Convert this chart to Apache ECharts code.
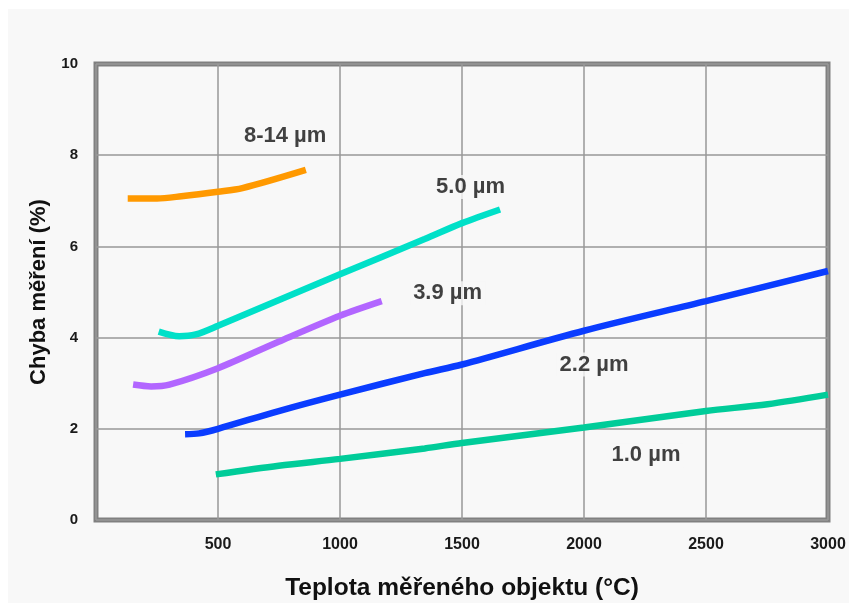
<!DOCTYPE html>
<html><head><meta charset="utf-8">
<script src="https://cdn.jsdelivr.net/npm/echarts@6/dist/echarts.min.js"></script>
<style>html,body{margin:0;padding:0;background:#fff}#c{width:849px;height:603px}</style>
</head><body><div id="c"></div>
<script>
// ---- data ----
const xTicks = [0, 500, 1000, 1500, 2000, 2500, 3000];
const yTicks = [0, 2, 4, 6, 8, 10];
const seriesNames = ['8-14 µm', '5.0 µm', '3.9 µm', '2.2 µm', '1.0 µm'];
const s8_14 = [[130, 7.05], [250, 7.05], [350, 7.1], [500, 7.2], [600, 7.28], [860, 7.68]];
const s5_0 = [[257, 4.13], [341, 4.03], [409, 4.07], [500, 4.26], [1000, 5.39], [1347, 6.16], [1500, 6.51], [1656, 6.81]];
const s3_9 = [[152, 2.97], [226, 2.93], [301, 2.97], [500, 3.33], [748, 3.91], [1000, 4.48], [1171, 4.80]];
const s2_2 = [[365, 1.88], [423, 1.90], [500, 2.0], [749, 2.39], [1000, 2.75], [1347, 3.22], [1500, 3.41], [2000, 4.15], [2500, 4.80], [3000, 5.46]];
const s1_0 = [[491, 1.0], [749, 1.19], [1000, 1.34], [1347, 1.57], [1500, 1.69], [2000, 2.03], [2500, 2.39], [2752, 2.54], [3000, 2.75]];
const labelAnchors = [[775, 8.42], [1535, 7.30], [1441, 4.97], [2041, 3.41], [2254, 1.42]];

const colors = ['#ff9900', '#00e0c8', '#b266ff', '#0a3cff', '#00cc99'];
const allSeries = [s8_14, s5_0, s3_9, s2_2, s1_0];
const FONT = "'Liberation Sans', Arial, sans-serif";

const chart = echarts.init(document.getElementById('c'), null, {renderer: 'canvas'});
const series = allSeries.map((d, i) => ({
  name: seriesNames[i], type: 'line', data: d, smooth: 0.3, symbol: 'none',
  lineStyle: {color: colors[i], width: 6.5, cap: 'butt'}, z: 3, silent: true
}));
series.push({
  type: 'scatter', symbolSize: 0, silent: true, z: 5,
  data: labelAnchors.map((p, i) => ({name: seriesNames[i], value: p})),
  label: {show: true, position: 'inside', formatter: '{b}', color: '#111',
    fontFamily: FONT, fontWeight: 'bold', fontSize: 22,
    backgroundColor: '#f8f8f8', padding: [1, 3]}
});

chart.setOption({
  backgroundColor: '#f8f8f8',
  animation: false,
  graphic: [
    {type: 'rect', shape: {x: 0, y: 0, width: 849, height: 9}, style: {fill: '#ffffff'}, silent: true},
    {type: 'rect', shape: {x: 0, y: 0, width: 8, height: 603}, style: {fill: '#ffffff'}, silent: true}
  ],
  grid: {left: 96, top: 64, right: 21, bottom: 83, show: true, outerBoundsMode: 'none', containLabel: false,
    borderColor: '#808080', borderWidth: 5, backgroundColor: '#f8f8f8'},
  xAxis: {
    type: 'value', min: xTicks[0], max: xTicks[xTicks.length - 1], interval: 500,
    name: 'Teplota měřeného objektu (°C)', nameLocation: 'middle', nameGap: 56,
    nameTextStyle: {fontFamily: FONT, fontWeight: 'bold', fontSize: 24.5, color: '#111'},
    axisLine: {show: false}, axisTick: {show: false},
    axisLabel: {fontFamily: FONT, fontWeight: 'bold', fontSize: 16, color: '#1a1a1a', margin: 17,
      formatter: v => (v === 0 ? '' : String(v))},
    splitLine: {show: true, lineStyle: {color: '#999', width: 1.5}}
  },
  yAxis: {
    type: 'value', min: yTicks[0], max: yTicks[yTicks.length - 1], interval: 2,
    name: 'Chyba měření (%)', nameLocation: 'middle', nameGap: 45, nameRotate: 90,
    nameTextStyle: {fontFamily: FONT, fontWeight: 'bold', fontSize: 22, color: '#111'},
    axisLine: {show: false}, axisTick: {show: false},
    axisLabel: {fontFamily: FONT, fontWeight: 'bold', fontSize: 15, color: '#1a1a1a', margin: 18},
    splitLine: {show: true, lineStyle: {color: '#999', width: 1.5}}
  },
  series: series
});
</script></body></html>
